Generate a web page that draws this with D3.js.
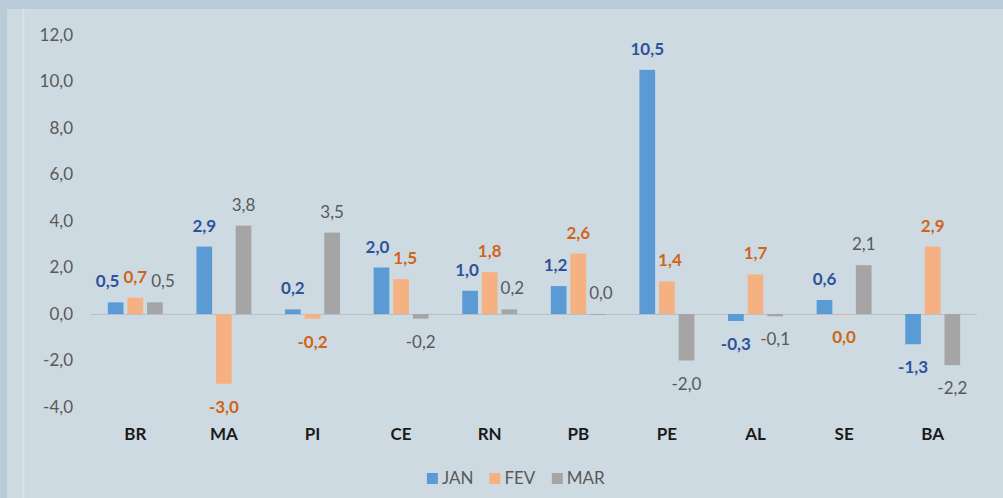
<!DOCTYPE html>
<html>
<head>
<meta charset="utf-8">
<script src="https://d3js.org/d3.v7.min.js"></script>
<style>
  body { margin: 0; background: #cedae2; }
  svg { display: block; font-family: Lato, "Open Sans", sans-serif; }
</style>
</head>
<body>
<svg id="chart" width="1003" height="498"></svg>

<script>
// data
const states = ["BR", "MA", "PI", "CE", "RN", "PB", "PE", "AL", "SE", "BA"];
const seriesNames = ["JAN", "FEV", "MAR"];
const jan = [0.5, 2.9, 0.2, 2.0, 1.0, 1.2, 10.5, -0.3, 0.6, -1.3];
const fev = [0.7, -3.0, -0.2, 1.5, 1.8, 2.6, 1.4, 1.7, -0.01, 2.9];
const mar = [0.5, 3.8, 3.5, -0.2, 0.2, 0.0, -2.0, -0.1, 2.1, -2.2];
const yTicks = [-4, -2, 0, 2, 4, 6, 8, 10, 12];

const barColors = ["#5b9bd5", "#f6b183", "#a5a5a5"];
const labelColors = ["#2f529b", "#d0651a", "#595959"];
const labelWeights = ["bold", "bold", "normal"];

const values = [jan, fev, mar];
const rows = states.map((s, i) => ({
  state: s,
  vals: seriesNames.map((n, k) => ({ state: s, series: n, k: k, v: values[k][i] }))
}));

const svg = d3.select("#chart");

// frame strips
svg.append("rect").attr("x", 0).attr("y", 0).attr("width", 1003).attr("height", 9).attr("fill", "#b9cad8");
svg.append("rect").attr("x", 0).attr("y", 0).attr("width", 7).attr("height", 498).attr("fill", "#b9cad8");
svg.append("line").attr("x1", 23.5).attr("x2", 23.5).attr("y1", 9).attr("y2", 498)
  .attr("stroke", "#dde2e8").attr("stroke-width", 1.5);

// scales
const x0 = d3.scaleBand().domain(states).range([91, 977]).paddingInner(0.38).paddingOuter(0.19);
const x1 = d3.scaleBand().domain(seriesNames).range([0, x0.bandwidth()]).paddingInner(0.2);
const y = d3.scaleLinear().domain([-4, 12]).range([407, 35]);

const fmt = v => {
  let s = v.toFixed(1).replace(".", ",");
  return s === "-0,0" ? "0,0" : s;
};

// y axis
const yAxis = svg.append("g")
  .attr("transform", "translate(73,0)")
  .call(d3.axisLeft(y).tickValues(yTicks).tickSize(0).tickPadding(0).tickFormat(fmt));
yAxis.select(".domain").remove();
yAxis.selectAll("text").attr("fill", "#595959").style("font-size", "17px")
  .style("font-family", "Lato, sans-serif");

// zero line
svg.append("line")
  .attr("x1", 91).attr("x2", 977)
  .attr("y1", y(0) + 0.5).attr("y2", y(0) + 0.5)
  .attr("stroke", "#b9bfc6").attr("stroke-width", 1.2);

// x axis labels
const xAxis = svg.append("g")
  .attr("transform", "translate(0,420)")
  .call(d3.axisBottom(x0).tickSize(0).tickPadding(8));
xAxis.select(".domain").remove();
xAxis.selectAll("text").attr("fill", "#1a1a1a").style("font-size", "17px")
  .style("font-weight", "bold").style("font-family", "Lato, sans-serif");

// bars
const groups = svg.append("g").selectAll("g")
  .data(rows).enter().append("g")
  .attr("transform", d => "translate(" + x0(d.state) + ",0)");

groups.selectAll("rect")
  .data(d => d.vals).enter().append("rect")
  .attr("x", d => x1(d.series))
  .attr("width", x1.bandwidth())
  .attr("y", d => y(Math.max(0, d.v)))
  .attr("height", d => Math.max(0.8, Math.abs(y(d.v) - y(0))))
  .attr("fill", d => barColors[d.k]);

// data labels
const labels = groups.selectAll("text.lbl")
  .data(d => d.vals).enter().append("text")
  .attr("class", "lbl")
  .attr("text-anchor", "middle")
  .style("font-size", "17px")
  .style("font-weight", d => labelWeights[d.k])
  .attr("fill", d => labelColors[d.k])
  .text(d => fmt(d.v));

// initial positions, then nudge apart where they collide
labels.each(function(d) {
  d.w = this.getComputedTextLength();
  d.cx = x1(d.series) + x1.bandwidth() / 2;
  d.by = d.v >= 0 ? y(d.v) - 15 : y(d.v) + 29;
});

rows.forEach(r => {
  const L = r.vals;
  for (let it = 0; it < 30; it++) {
    for (let i = 0; i < L.length; i++) {
      for (let j = i + 1; j < L.length; j++) {
        const a = L[i], b = L[j];
        if (Math.abs(a.by - b.by) < 15) {
          const need = (a.w + b.w) / 2 + 4;
          const gap = b.cx - a.cx;
          if (gap < need) {
            const d = (need - gap) / 2;
            a.cx -= d; b.cx += d;
          }
        }
      }
      // keep label clear of neighbouring bars
      const a = L[i];
      L.forEach(bar => {
        if (bar === a) return;
        const bx0 = x1(bar.series), bx1 = bx0 + x1.bandwidth();
        const by0 = y(Math.max(0, bar.v)), by1 = y(Math.min(0, bar.v));
        const lx0 = a.cx - a.w / 2, lx1 = a.cx + a.w / 2;
        const ly0 = a.by - 13, ly1 = a.by;
        if (lx1 > bx0 && lx0 < bx1 && ly1 > by0 && ly0 < by1) {
          if (a.cx > (bx0 + bx1) / 2) a.cx += bx1 - lx0 + 3;
          else a.cx -= lx1 - bx0 + 3;
        }
      });
    }
  }
});

labels.attr("x", d => d.cx).attr("y", d => d.by);

// legend
const legend = svg.append("g");
const items = legend.selectAll("g").data(seriesNames).enter().append("g");
items.append("rect").attr("width", 11).attr("height", 11).attr("y", -11)
  .attr("fill", (d, i) => barColors[i]);
items.append("text").attr("x", 15).attr("y", 0)
  .attr("fill", "#595959").style("font-size", "17px").text(d => d);
let lx = 0;
items.each(function() {
  d3.select(this).attr("transform", "translate(" + lx + ",0)");
  lx += this.getBBox().width + 16;
});
const total = lx - 16;
legend.attr("transform", "translate(" + (516 - total / 2) + ",484)");
</script>
</body>
</html>
